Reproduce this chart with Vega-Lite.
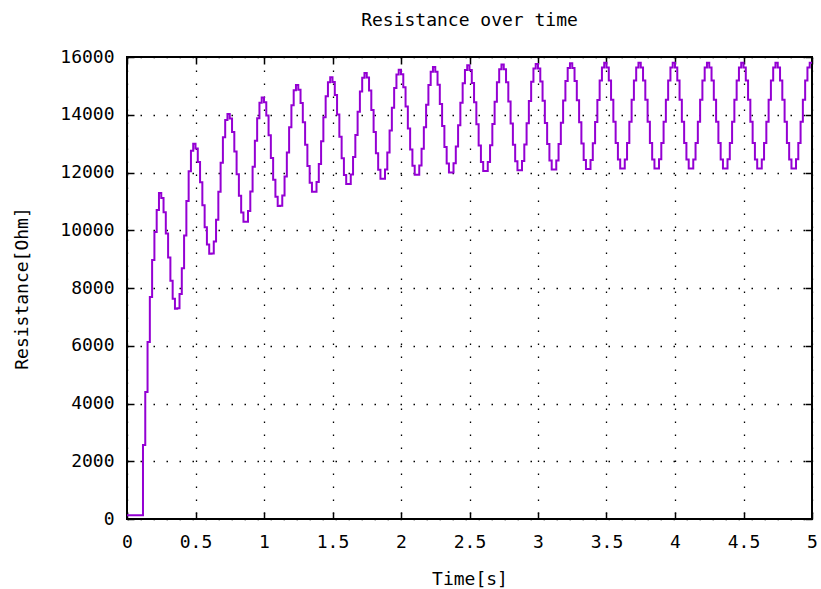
{
 "$schema": "https://vega.github.io/schema/vega-lite/v6.json",
 "width": 685,
 "height": 462,
 "autosize": {"type": "none"},
 "padding": {"left": 127, "top": 57, "right": 9, "bottom": 70},
 "background": "white",
 "title": {"text": "Resistance over time", "font": "DejaVu Sans Mono", "fontSize": 18, "fontWeight": "normal", "color": "#000", "offset": 18},
 "config": {"view": {"stroke": "#000", "strokeWidth": 2}},
 "data": {"values": [
{"t":0,"r":130},{"t":0.0167,"r":130},{"t":0.0333,"r":130},{"t":0.05,"r":130},{"t":0.0667,"r":130},{"t":0.0833,"r":130},
{"t":0.1,"r":130},{"t":0.1167,"r":2560},{"t":0.1333,"r":4400},{"t":0.15,"r":6130},{"t":0.1667,"r":7690},{"t":0.1833,"r":8970},
{"t":0.2,"r":9940},{"t":0.2167,"r":10700},{"t":0.2333,"r":11290},{"t":0.25,"r":11115},{"t":0.2667,"r":10620},{"t":0.2833,"r":9891},
{"t":0.3,"r":9054},{"t":0.3167,"r":8253},{"t":0.3333,"r":7627},{"t":0.35,"r":7284},{"t":0.3667,"r":7303},{"t":0.3833,"r":7790},
{"t":0.4,"r":8680},{"t":0.4167,"r":9819},{"t":0.4333,"r":11010},{"t":0.45,"r":12047},{"t":0.4667,"r":12751},{"t":0.4833,"r":13000},
{"t":0.5,"r":12833},{"t":0.5167,"r":12362},{"t":0.5333,"r":11666},{"t":0.55,"r":10869},{"t":0.5667,"r":10105},{"t":0.5833,"r":9509},
{"t":0.6,"r":9182},{"t":0.6167,"r":9193},{"t":0.6333,"r":9607},{"t":0.65,"r":10363},{"t":0.6667,"r":11330},{"t":0.6833,"r":12341},
{"t":0.7,"r":13221},{"t":0.7167,"r":13819},{"t":0.7333,"r":14030},{"t":0.75,"r":13867},{"t":0.7667,"r":13405},{"t":0.7833,"r":12724},
{"t":0.8,"r":11943},{"t":0.8167,"r":11195},{"t":0.8333,"r":10611},{"t":0.85,"r":10291},{"t":0.8667,"r":10297},{"t":0.8833,"r":10665},
{"t":0.9,"r":11338},{"t":0.9167,"r":12198},{"t":0.9333,"r":13097},{"t":0.95,"r":13881},{"t":0.9667,"r":14412},{"t":0.9833,"r":14600},
{"t":1,"r":14436},{"t":1.0167,"r":13971},{"t":1.0333,"r":13287},{"t":1.05,"r":12502},{"t":1.0667,"r":11750},{"t":1.0833,"r":11163},
{"t":1.1,"r":10841},{"t":1.1167,"r":10846},{"t":1.1333,"r":11204},{"t":1.15,"r":11858},{"t":1.1667,"r":12694},{"t":1.1833,"r":13569},
{"t":1.2,"r":14330},{"t":1.2167,"r":14847},{"t":1.2333,"r":15030},{"t":1.25,"r":14868},{"t":1.2667,"r":14411},{"t":1.2833,"r":13738},
{"t":1.3,"r":12965},{"t":1.3167,"r":12225},{"t":1.3333,"r":11647},{"t":1.35,"r":11331},{"t":1.3667,"r":11334},{"t":1.3833,"r":11673},
{"t":1.4,"r":12293},{"t":1.4167,"r":13086},{"t":1.4333,"r":13915},{"t":1.45,"r":14637},{"t":1.4667,"r":15127},{"t":1.4833,"r":15300},
{"t":1.5,"r":15138},{"t":1.5167,"r":14681},{"t":1.5333,"r":14008},{"t":1.55,"r":13235},{"t":1.5667,"r":12495},{"t":1.5833,"r":11917},
{"t":1.6,"r":11601},{"t":1.6167,"r":11602},{"t":1.6333,"r":11931},{"t":1.65,"r":12533},{"t":1.6667,"r":13302},{"t":1.6833,"r":14106},
{"t":1.7,"r":14807},{"t":1.7167,"r":15282},{"t":1.7333,"r":15450},{"t":1.75,"r":15290},{"t":1.7667,"r":14836},{"t":1.7833,"r":14168},
{"t":1.8,"r":13401},{"t":1.8167,"r":12668},{"t":1.8333,"r":12094},{"t":1.85,"r":11780},{"t":1.8667,"r":11782},{"t":1.8833,"r":12105},
{"t":1.9,"r":12695},{"t":1.9167,"r":13451},{"t":1.9333,"r":14240},{"t":1.95,"r":14928},{"t":1.9667,"r":15395},{"t":1.9833,"r":15560},
{"t":2,"r":15401},{"t":2.0167,"r":14951},{"t":2.0333,"r":14289},{"t":2.05,"r":13528},{"t":2.0667,"r":12800},{"t":2.0833,"r":12231},
{"t":2.1,"r":11920},{"t":2.1167,"r":11921},{"t":2.1333,"r":12240},{"t":2.15,"r":12823},{"t":2.1667,"r":13568},{"t":2.1833,"r":14347},
{"t":2.2,"r":15026},{"t":2.2167,"r":15487},{"t":2.2333,"r":15650},{"t":2.25,"r":15491},{"t":2.2667,"r":15040},{"t":2.2833,"r":14375},
{"t":2.3,"r":13612},{"t":2.3167,"r":12883},{"t":2.3333,"r":12312},{"t":2.35,"r":12000},{"t":2.3667,"r":12001},{"t":2.3833,"r":12318},
{"t":2.4,"r":12898},{"t":2.4167,"r":13639},{"t":2.4333,"r":14414},{"t":2.45,"r":15090},{"t":2.4667,"r":15548},{"t":2.4833,"r":15710},
{"t":2.5,"r":15550},{"t":2.5167,"r":15098},{"t":2.5333,"r":14432},{"t":2.55,"r":13667},{"t":2.5667,"r":12935},{"t":2.5833,"r":12363},
{"t":2.6,"r":12050},{"t":2.6167,"r":12051},{"t":2.6333,"r":12366},{"t":2.65,"r":12943},{"t":2.6667,"r":13680},{"t":2.6833,"r":14451},
{"t":2.7,"r":15123},{"t":2.7167,"r":15579},{"t":2.7333,"r":15740},{"t":2.75,"r":15580},{"t":2.7667,"r":15128},{"t":2.7833,"r":14462},
{"t":2.8,"r":13697},{"t":2.8167,"r":12965},{"t":2.8333,"r":12393},{"t":2.85,"r":12080},{"t":2.8667,"r":12081},{"t":2.8833,"r":12395},
{"t":2.9,"r":12970},{"t":2.9167,"r":13706},{"t":2.9333,"r":14475},{"t":2.95,"r":15145},{"t":2.9667,"r":15599},{"t":2.9833,"r":15760},
{"t":3,"r":15600},{"t":3.0167,"r":15148},{"t":3.0333,"r":14482},{"t":3.05,"r":13717},{"t":3.0667,"r":12985},{"t":3.0833,"r":12413},
{"t":3.1,"r":12100},{"t":3.1167,"r":12101},{"t":3.1333,"r":12415},{"t":3.15,"r":12990},{"t":3.1667,"r":13726},{"t":3.1833,"r":14495},
{"t":3.2,"r":15165},{"t":3.2167,"r":15619},{"t":3.2333,"r":15780},{"t":3.25,"r":15620},{"t":3.2667,"r":15168},{"t":3.2833,"r":14502},
{"t":3.3,"r":13737},{"t":3.3167,"r":13005},{"t":3.3333,"r":12433},{"t":3.35,"r":12120},{"t":3.3667,"r":12121},{"t":3.3833,"r":12435},
{"t":3.4,"r":13010},{"t":3.4167,"r":13746},{"t":3.4333,"r":14515},{"t":3.45,"r":15185},{"t":3.4667,"r":15639},{"t":3.4833,"r":15800},
{"t":3.5,"r":15640},{"t":3.5167,"r":15188},{"t":3.5333,"r":14522},{"t":3.55,"r":13757},{"t":3.5667,"r":13025},{"t":3.5833,"r":12453},
{"t":3.6,"r":12140},{"t":3.6167,"r":12140},{"t":3.6333,"r":12453},{"t":3.65,"r":13025},{"t":3.6667,"r":13757},{"t":3.6833,"r":14522},
{"t":3.7,"r":15188},{"t":3.7167,"r":15640},{"t":3.7333,"r":15800},{"t":3.75,"r":15640},{"t":3.7667,"r":15190},{"t":3.7833,"r":14520},
{"t":3.8,"r":13760},{"t":3.8167,"r":13020},{"t":3.8333,"r":12450},{"t":3.85,"r":12140},{"t":3.8667,"r":12140},{"t":3.8833,"r":12455},
{"t":3.9,"r":13025},{"t":3.9167,"r":13755},{"t":3.9333,"r":14520},{"t":3.95,"r":15190},{"t":3.9667,"r":15640},{"t":3.9833,"r":15800},
{"t":4,"r":15640},{"t":4.0167,"r":15188},{"t":4.0333,"r":14522},{"t":4.05,"r":13757},{"t":4.0667,"r":13025},{"t":4.0833,"r":12453},
{"t":4.1,"r":12140},{"t":4.1167,"r":12140},{"t":4.1333,"r":12453},{"t":4.15,"r":13025},{"t":4.1667,"r":13757},{"t":4.1833,"r":14522},
{"t":4.2,"r":15188},{"t":4.2167,"r":15640},{"t":4.2333,"r":15800},{"t":4.25,"r":15640},{"t":4.2667,"r":15190},{"t":4.2833,"r":14520},
{"t":4.3,"r":13760},{"t":4.3167,"r":13020},{"t":4.3333,"r":12450},{"t":4.35,"r":12140},{"t":4.3667,"r":12140},{"t":4.3833,"r":12455},
{"t":4.4,"r":13025},{"t":4.4167,"r":13755},{"t":4.4333,"r":14520},{"t":4.45,"r":15190},{"t":4.4667,"r":15640},{"t":4.4833,"r":15800},
{"t":4.5,"r":15640},{"t":4.5167,"r":15188},{"t":4.5333,"r":14522},{"t":4.55,"r":13757},{"t":4.5667,"r":13025},{"t":4.5833,"r":12453},
{"t":4.6,"r":12140},{"t":4.6167,"r":12140},{"t":4.6333,"r":12453},{"t":4.65,"r":13025},{"t":4.6667,"r":13757},{"t":4.6833,"r":14522},
{"t":4.7,"r":15188},{"t":4.7167,"r":15640},{"t":4.7333,"r":15800},{"t":4.75,"r":15640},{"t":4.7667,"r":15190},{"t":4.7833,"r":14520},
{"t":4.8,"r":13760},{"t":4.8167,"r":13020},{"t":4.8333,"r":12450},{"t":4.85,"r":12140},{"t":4.8667,"r":12140},{"t":4.8833,"r":12455},
{"t":4.9,"r":13025},{"t":4.9167,"r":13755},{"t":4.9333,"r":14520},{"t":4.95,"r":15190},{"t":4.9667,"r":15640},{"t":4.9833,"r":15800},
{"t":5,"r":15800}
 ]},
 "layer": [
  {
   "mark": {"type": "line", "interpolate": "step-after", "color": "#9400d3", "strokeWidth": 2},
   "encoding": {
    "x": {"field": "t", "type": "quantitative", "scale": {"domain": [0, 5], "nice": false},
     "axis": {"values": [0,0.5,1,1.5,2,2.5,3,3.5,4,4.5,5], "format": "~g", "title": "Time[s]", "labelFlush": false,
      "domain": false, "tickSize": -7, "tickColor": "#000", "tickWidth": 1.5,
      "grid": true, "gridColor": "#000", "gridDash": [1.5, 11.5], "gridWidth": 1.3, "gridOpacity": 1,
      "labelFont": "DejaVu Sans Mono", "labelFontSize": 18, "labelColor": "#000", "labelPadding": 21,
      "titleFont": "DejaVu Sans Mono", "titleFontSize": 18, "titleFontWeight": "normal", "titleColor": "#000", "titlePadding": 19}},
    "y": {"field": "r", "type": "quantitative", "scale": {"domain": [0, 16000], "nice": false},
     "axis": {"values": [0,2000,4000,6000,8000,10000,12000,14000,16000], "format": "d", "title": "Resistance[Ohm]", "labelFlush": false,
      "domain": false, "tickSize": -7, "tickColor": "#000", "tickWidth": 1.5,
      "grid": true, "gridColor": "#000", "gridDash": [1.5, 11.5], "gridWidth": 1.3, "gridOpacity": 1,
      "labelFont": "DejaVu Sans Mono", "labelFontSize": 18, "labelColor": "#000", "labelPadding": 20,
      "titleFont": "DejaVu Sans Mono", "titleFontSize": 18, "titleFontWeight": "normal", "titleColor": "#000", "titlePadding": 28}}
   }
  },
  {
   "mark": {"type": "line", "opacity": 0},
   "encoding": {
    "x": {"field": "t", "type": "quantitative", "scale": {"domain": [0, 5], "nice": false},
     "axis": {"orient": "top", "values": [0,0.5,1,1.5,2,2.5,3,3.5,4,4.5,5], "labels": false, "title": null,
      "domain": false, "grid": false, "tickSize": -7, "tickColor": "#000", "tickWidth": 1.5}},
    "y": {"field": "r", "type": "quantitative", "scale": {"domain": [0, 16000], "nice": false},
     "axis": {"orient": "right", "values": [0,2000,4000,6000,8000,10000,12000,14000,16000], "labels": false, "title": null,
      "domain": false, "grid": false, "tickSize": -7, "tickColor": "#000", "tickWidth": 1.5}}
   }
  }
 ],
 "resolve": {"scale": {"x": "independent", "y": "independent"}}
}
